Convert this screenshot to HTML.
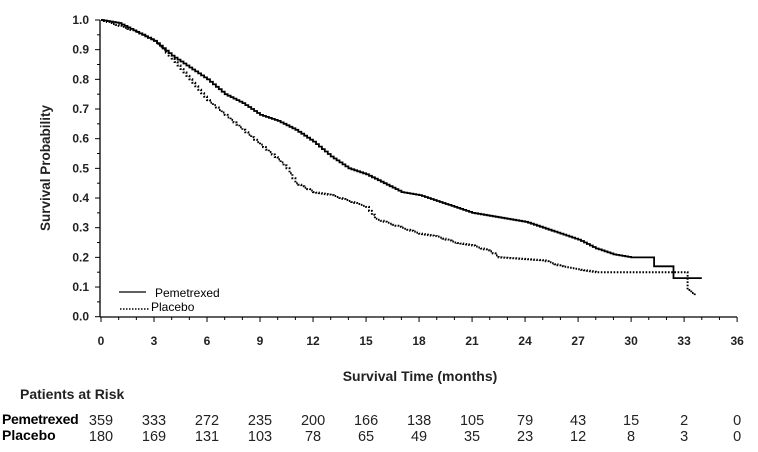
<!DOCTYPE html>
<html><head><style>
body{margin:0;background:#fff;width:758px;height:447px;overflow:hidden}
svg{font-family:"Liberation Sans",Arial,sans-serif}
</style></head><body>
<svg id="s" width="758" height="447" xmlns="http://www.w3.org/2000/svg">
<g id="ax" stroke="#000" stroke-width="1.3" fill="none">
<line x1="100" y1="20" x2="100" y2="317"/>
<line x1="100" y1="317" x2="737" y2="317"/>
</g>
<g id="tk" stroke="#000" stroke-width="1"></g>
<g id="lb" font-size="12" font-weight="bold" fill="#222"></g>
<text x="50" y="168" font-size="13.5" font-weight="bold" fill="#222" text-anchor="middle" transform="rotate(-90 50 168)">Survival Probability</text>
<text x="420" y="381" font-size="14" font-weight="bold" fill="#222" text-anchor="middle">Survival Time (months)</text>
<text x="20" y="399" font-size="14" font-weight="bold" fill="#222">Patients at Risk</text>
<text x="2" y="424" font-size="14" font-weight="bold" letter-spacing="-0.3">Pemetrexed</text>
<text x="2" y="440" font-size="14" font-weight="bold">Placebo</text>
<g id="rk" font-size="14.5" text-anchor="middle" fill="#222"></g>
<path id="p1" fill="none" stroke="#000" stroke-width="1.8"/>
<path id="p2" fill="none" stroke="#000" stroke-width="2" stroke-dasharray="1.6 1.6"/>
<line x1="119" y1="292" x2="146" y2="292" stroke="#000" stroke-width="1.2"/>
<text x="155" y="297" font-size="12">Pemetrexed</text>
<line x1="120" y1="309" x2="150" y2="309" stroke="#000" stroke-width="1.6" stroke-dasharray="1.5 1.5"/>
<text x="151" y="311" font-size="12">Placebo</text>
</svg>
<script>
var X=m=>101+m*17.67, Y=s=>316.7-s*296.7, ns="http://www.w3.org/2000/svg";
function el(g,t,a,txt){var e=document.createElementNS(ns,t);for(var k in a)e.setAttribute(k,a[k]);if(txt!=null)e.textContent=txt;document.getElementById(g).appendChild(e);}
for(var i=0;i<=36;i++){var x=X(i);el("tk","line",{x1:x,y1:317,x2:x,y2:i%3?320:322});}
for(var i=0;i<=36;i+=3)el("lb","text",{x:X(i),y:345,"text-anchor":"middle"},i);
for(var i=0;i<=20;i++){var y=Y(i*0.05);el("tk","line",{x1:i%2?97:95,y1:y,x2:100,y2:y});}
for(var i=0;i<=10;i++)el("lb","text",{x:89,y:Y(i/10)+4,"text-anchor":"end"},(i/10).toFixed(1));
var r1=[359,333,272,235,200,166,138,105,79,43,15,2,0],r2=[180,169,131,103,78,65,49,35,23,12,8,3,0];
r1.forEach((v,i)=>el("rk","text",{x:X(i*3),y:425},v));
r2.forEach((v,i)=>el("rk","text",{x:X(i*3),y:441},v));
function step(pts,n){var d="M"+X(0)+","+Y(1);
for(var j=1;j<pts.length;j++){var a=pts[j-1],b=pts[j];var k=Math.max(1,Math.round((b[0]-a[0])*n));
for(var t=1;t<=k;t++){var m=a[0]+(b[0]-a[0])*t/k,s=a[1]+(b[1]-a[1])*t/k;d+="H"+X(m).toFixed(1)+"V"+Y(s).toFixed(1);}}
return d;}
var P=[[0,1],[1,0.99],[2,0.96],[3,0.93],[4,0.88],[5,0.84],[6,0.80],[7,0.75],[8,0.72],[9,0.68],[10,0.66],[11,0.63],[12,0.59],[13,0.54],[14,0.50],[15,0.48],[16,0.45],[17,0.42],[18,0.41],[19,0.39],[20,0.37],[21,0.35],[22,0.34],[23,0.33],[24,0.32],[25,0.30],[26,0.28],[27,0.26],[28,0.23],[29,0.21],[30,0.20],[31.2,0.20],[31.3,0.17],[32.3,0.17],[32.4,0.13],[34,0.13]];
var Q=[[0,1],[2,0.96],[3,0.93],[4,0.87],[5,0.80],[6,0.73],[7,0.68],[8,0.63],[9,0.58],[10,0.53],[10.5,0.50],[11,0.45],[12,0.42],[13,0.41],[14,0.39],[15,0.37],[15.5,0.33],[16,0.32],[17,0.30],[18,0.28],[19,0.27],[20,0.25],[21,0.24],[22,0.22],[22.5,0.20],[25,0.19],[26,0.17],[28,0.15],[33,0.15],[33.2,0.09],[33.6,0.07]];
document.getElementById("p1").setAttribute("d",step(P,6));
document.getElementById("p2").setAttribute("d",step(Q,6));
</script>
</body></html>
